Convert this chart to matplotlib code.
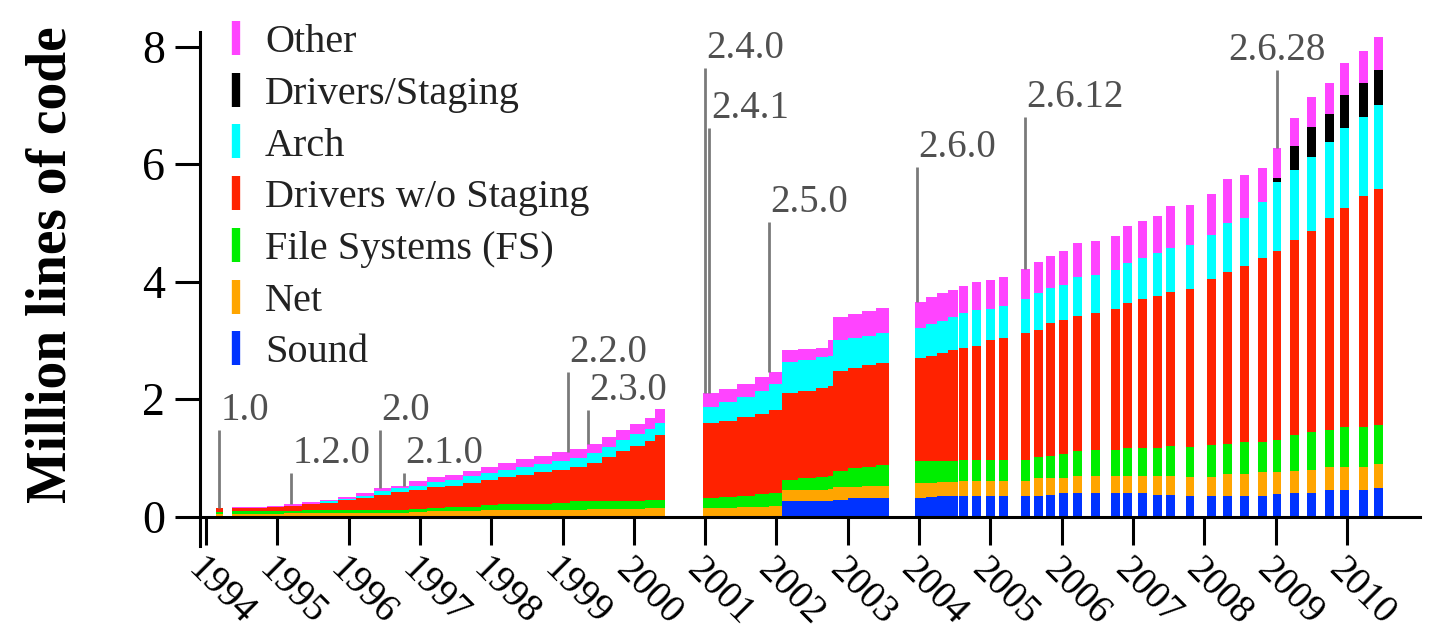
import numpy as np
import matplotlib.pyplot as plt
from matplotlib.lines import Line2D

plt.rcParams['font.family'] = 'Liberation Serif'

# stacking order, bottom to top
layer_names = ['Sound', 'Net', 'File Systems (FS)', 'Drivers w/o Staging',
               'Arch', 'Drivers/Staging', 'Other']
layer_colors = ['#0033ff', '#ffa500', '#00ee00', '#ff2200', '#00ffff', '#000000', '#ff44ff']

# 1.0 .. 2.3.x : step edges (one more than the values), million lines
early_edges = [1994.14, 1994.24, 1994.36, 1994.60, 1994.85, 1995.10, 1995.35, 1995.60,
               1995.85, 1996.10, 1996.35, 1996.60, 1996.85, 1997.10, 1997.35, 1997.60,
               1997.85, 1998.10, 1998.35, 1998.60, 1998.85, 1999.10, 1999.35, 1999.55,
               1999.75, 1999.95, 2000.15, 2000.30, 2000.44]
early_net = [0.05, 0, 0.05, 0.05, 0.05, 0.06, 0.07, 0.07, 0.07, 0.07, 0.07, 0.07, 0.08, 0.09,
             0.10, 0.10, 0.11, 0.12, 0.12, 0.12, 0.12, 0.12, 0.13, 0.13, 0.13, 0.13, 0.14, 0.14]
early_fs = [0.03, 0, 0.04, 0.04, 0.04, 0.04, 0.05, 0.05, 0.05, 0.05, 0.05, 0.05, 0.05, 0.06,
            0.06, 0.07, 0.09, 0.10, 0.10, 0.10, 0.12, 0.14, 0.13, 0.13, 0.14, 0.14, 0.14, 0.14]
early_drivers = [0.06, 0, 0.05, 0.06, 0.07, 0.08, 0.09, 0.12, 0.16, 0.20, 0.25, 0.30, 0.33, 0.35,
                 0.37, 0.41, 0.43, 0.45, 0.49, 0.54, 0.56, 0.59, 0.66, 0.76, 0.85, 0.93, 1.01, 1.11]
early_arch = [0.00, 0, 0.00, 0.00, 0.00, 0.00, 0.01, 0.02, 0.02, 0.04, 0.06, 0.06, 0.07, 0.09,
              0.10, 0.11, 0.12, 0.13, 0.14, 0.14, 0.14, 0.15, 0.16, 0.16, 0.18, 0.20, 0.21, 0.21]
early_other = [0.01, 0, 0.02, 0.02, 0.02, 0.03, 0.03, 0.02, 0.03, 0.05, 0.05, 0.05, 0.07, 0.08,
               0.08, 0.08, 0.09, 0.11, 0.13, 0.14, 0.16, 0.16, 0.16, 0.18, 0.17, 0.17, 0.18, 0.23]

# 2.4.x / 2.5.x
mid_edges = [2000.97, 2001.20, 2001.45, 2001.70, 2001.90, 2002.08, 2002.30, 2002.55,
             2002.72, 2002.80, 2003.00, 2003.20, 2003.40, 2003.58]
mid_sound = [0, 0, 0, 0, 0, 0.26, 0.26, 0.26, 0.27, 0.28, 0.31, 0.32, 0.32]
mid_net = [0.15, 0.15, 0.16, 0.17, 0.18, 0.19, 0.19, 0.20, 0.20, 0.22, 0.20, 0.20, 0.21]
mid_fs = [0.17, 0.18, 0.19, 0.21, 0.22, 0.18, 0.20, 0.21, 0.22, 0.28, 0.31, 0.33, 0.35]
mid_drivers = [1.27, 1.30, 1.34, 1.37, 1.42, 1.47, 1.49, 1.52, 1.53, 1.70, 1.71, 1.73, 1.74]
mid_arch = [0.28, 0.32, 0.34, 0.39, 0.43, 0.54, 0.53, 0.52, 0.51, 0.52, 0.51, 0.50, 0.50]
mid_other = [0.23, 0.22, 0.23, 0.23, 0.22, 0.19, 0.18, 0.16, 0.27, 0.40, 0.41, 0.42, 0.44]

# 2.6.0 .. 2.6.7
late_edges = [2003.94, 2004.10, 2004.25, 2004.40, 2004.55]
late_sound = [0.32, 0.33, 0.35, 0.36]
late_net = [0.26, 0.25, 0.24, 0.23]
late_fs = [0.36, 0.36, 0.35, 0.35]
late_drivers = [1.76, 1.80, 1.85, 1.90]
late_arch = [0.51, 0.54, 0.54, 0.56]
late_other = [0.45, 0.46, 0.47, 0.46]

# 2.6.8 onwards, one bar per release
rel_years = [2004.62, 2004.81, 2005.00, 2005.19, 2005.49, 2005.67, 2005.84, 2006.02, 2006.22,
             2006.48, 2006.75, 2006.93, 2007.13, 2007.34, 2007.53, 2007.80, 2008.10, 2008.33,
             2008.57, 2008.82, 2009.02, 2009.27, 2009.50, 2009.76, 2009.97, 2010.23, 2010.45]
rel_sound = [0.35, 0.35, 0.35, 0.35, 0.35, 0.36, 0.37, 0.40, 0.40, 0.40, 0.40, 0.40, 0.40, 0.37,
             0.37, 0.35, 0.35, 0.35, 0.35, 0.35, 0.38, 0.40, 0.40, 0.45, 0.45, 0.45, 0.48]
rel_net = [0.25, 0.25, 0.25, 0.25, 0.25, 0.30, 0.29, 0.26, 0.29, 0.29, 0.29, 0.29, 0.29, 0.32,
           0.32, 0.32, 0.32, 0.37, 0.37, 0.41, 0.38, 0.37, 0.40, 0.40, 0.40, 0.40, 0.41]
rel_fs = [0.37, 0.37, 0.37, 0.37, 0.37, 0.36, 0.37, 0.40, 0.42, 0.44, 0.44, 0.48, 0.48, 0.48,
          0.52, 0.51, 0.55, 0.52, 0.55, 0.51, 0.55, 0.62, 0.64, 0.63, 0.68, 0.68, 0.67]
rel_drivers = [1.90, 1.94, 2.04, 2.07, 2.16, 2.15, 2.27, 2.28, 2.30, 2.33, 2.40, 2.46, 2.53, 2.58,
               2.62, 2.70, 2.82, 2.93, 2.99, 3.13, 3.22, 3.32, 3.43, 3.61, 3.73, 3.93, 4.02]
rel_arch = [0.60, 0.61, 0.52, 0.54, 0.58, 0.63, 0.59, 0.61, 0.67, 0.66, 0.67, 0.69, 0.71, 0.73,
            0.75, 0.75, 0.75, 0.83, 0.82, 0.95, 1.16, 1.19, 1.25, 1.28, 1.36, 1.35, 1.43]
rel_staging = [0, 0, 0, 0, 0, 0, 0, 0, 0, 0, 0, 0, 0, 0,
               0, 0, 0, 0, 0, 0, 0.07, 0.41, 0.52, 0.48, 0.55, 0.58, 0.59]
rel_other = [0.45, 0.47, 0.50, 0.50, 0.51, 0.53, 0.55, 0.58, 0.58, 0.58, 0.58, 0.62, 0.62, 0.63,
             0.70, 0.68, 0.70, 0.75, 0.73, 0.59, 0.51, 0.47, 0.50, 0.54, 0.55, 0.54, 0.56]

# release markers
ver_names = ['1.0', '1.2.0', '2.0', '2.1.0', '2.2.0', '2.3.0',
             '2.4.0', '2.4.1', '2.5.0', '2.6.0', '2.6.12', '2.6.28']
ver_dates = [1994.18, 1995.19, 1996.44, 1996.77, 1999.08, 1999.36,
             2001.00, 2001.06, 2001.90, 2003.97, 2005.49, 2009.02]
ver_text_y = [1.65, 0.92, 1.65, 0.92, 2.64, 1.99, 7.81, 6.79, 5.19, 6.13, 6.98, 7.78]
ver_align = ['left'] * 11 + ['center']

years = list(range(1994, 2011))


def zeros(n):
    return [0.0] * n


areas = [
    (early_edges, [zeros(len(early_net)), early_net, early_fs, early_drivers, early_arch,
                   zeros(len(early_net)), early_other]),
    (mid_edges, [mid_sound, mid_net, mid_fs, mid_drivers, mid_arch, zeros(len(mid_net)), mid_other]),
    (late_edges, [late_sound, late_net, late_fs, late_drivers, late_arch, zeros(len(late_net)), late_other]),
]
rel_layers = [rel_sound, rel_net, rel_fs, rel_drivers, rel_arch, rel_staging, rel_other]
rel_total = np.sum(rel_layers, axis=0)

fig = plt.figure(figsize=(14.35, 6.39), dpi=100)
ax = fig.add_axes([0.1394, 0.1455, 0.8502, 0.8044])

for edges, layers in areas:
    base = np.zeros(len(edges))
    for vals, col in zip(layers, layer_colors):
        v = np.append(vals, vals[-1])
        ax.fill_between(edges, base, base + v, step='post', color=col, lw=0)
        base = base + v

bottom = np.zeros(len(rel_years))
for vals, col in zip(rel_layers, layer_colors):
    ax.bar(rel_years, vals, width=0.125, bottom=bottom, color=col, linewidth=0)
    bottom = bottom + np.array(vals)


def stack_top(date):
    for edges, layers in areas:
        if edges[0] <= date < edges[-1]:
            i = np.searchsorted(edges, date, side='right') - 1
            return sum(l[i] for l in layers)
    i = np.argmin(np.abs(np.array(rel_years) - date))
    return rel_total[i]


for name, date, ty, ha in zip(ver_names, ver_dates, ver_text_y, ver_align):
    ax.plot([date, date], [stack_top(date), ty - 0.17], color='#7a7a7a', lw=2,
            solid_capstyle='butt', zorder=3)
    ax.text(date + (0.02 if ha == 'left' else 0), ty, name, ha=ha, va='baseline',
            fontsize=28, color='#505050')

ax.set_xlim(1993.916, 2011.027)
ax.set_ylim(-0.5, 8.25)
ax.spines['top'].set_visible(False)
ax.spines['right'].set_visible(False)
ax.spines['bottom'].set_position(('data', 0))
for s in ['left', 'bottom']:
    ax.spines[s].set_linewidth(2.2)

ax.set_yticks([0, 2, 4, 6, 8])
ax.tick_params(axis='y', direction='out', length=18, width=2.2, labelsize=33, pad=7)
ax.set_xticks(years)
ax.set_xticklabels([str(y) for y in years], rotation=-45, ha='left', va='top',
                   rotation_mode='anchor')
ax.tick_params(axis='x', direction='out', length=20, width=2.2, labelsize=28, pad=5)

fig.text(0.036, 0.585, 'Million lines of code', rotation=90, fontsize=40,
         fontweight='bold', ha='center', va='center')

handles = [Line2D([], [], color=c, lw=0, marker='|', markersize=24, markeredgewidth=6)
           for c in layer_colors[::-1]]
ax.legend(handles, layer_names[::-1], loc='upper left', bbox_to_anchor=(220 / 1435, 1 - 24 / 639),
          bbox_transform=fig.transFigure, frameon=False, fontsize=29, handlelength=0.8,
          handletextpad=0.32, labelspacing=0.36, borderpad=0, borderaxespad=0,
          labelcolor='#222222')

fig.savefig('out.png', dpi=100)
